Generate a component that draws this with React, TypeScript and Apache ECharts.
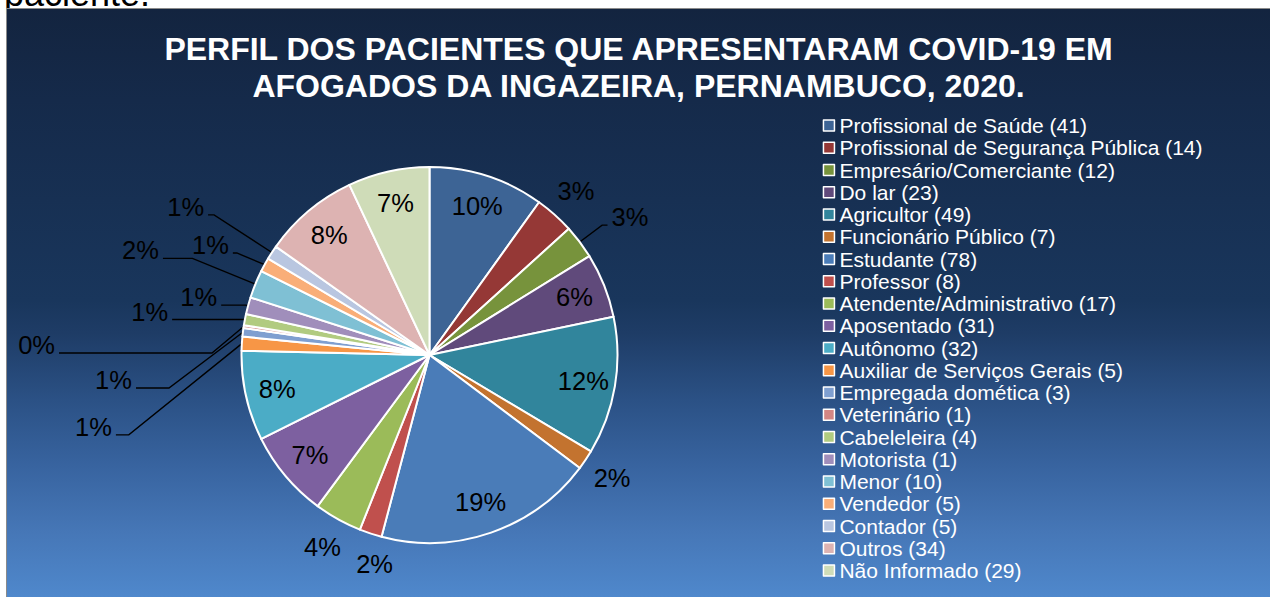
import { useEffect, useRef } from "react";
import * as echarts from "echarts";

const titleText =
  "PERFIL DOS PACIENTES QUE APRESENTARAM COVID-19 EM\nAFOGADOS DA INGAZEIRA, PERNAMBUCO, 2020.";

const categories = [
  "Profissional de Saúde (41)",
  "Profissional de Segurança Pública (14)",
  "Empresário/Comerciante (12)",
  "Do lar (23)",
  "Agricultor (49)",
  "Funcionário Público (7)",
  "Estudante (78)",
  "Professor (8)",
  "Atendente/Administrativo (17)",
  "Aposentado (31)",
  "Autônomo (32)",
  "Auxiliar de Serviços Gerais (5)",
  "Empregada domética (3)",
  "Veterinário (1)",
  "Cabeleleira (4)",
  "Motorista (1)",
  "Menor (10)",
  "Vendedor (5)",
  "Contador (5)",
  "Outros (34)",
  "Não Informado (29)",
];

// slice sizes (Motorista slice is drawn larger than its legend count)
const values = [41, 14, 12, 23, 49, 7, 78, 8, 17, 31, 32, 5, 3, 1, 4, 6, 10, 5, 5, 34, 29];

const colors = [
  "#3D6495", "#953836", "#77933C", "#604A7B", "#31859C", "#C3732F",
  "#4A7CB8", "#C0504D", "#9BBB59", "#7D60A0", "#4BACC6", "#F79646",
  "#7F9FD0", "#D38684", "#B1CB80", "#A08EBB", "#7FC0D4", "#F9AE78",
  "#B9C6E0", "#DDB3B2", "#CFDCB8",
];

const INNER = [0, 3, 4, 6, 9, 10, 19, 20];
const OUTER_PLAIN = [1, 5, 7, 8];
// index -> [length, length2, label box height]
const LEADER: Record<number, [number, number, number]> = {
  2: [28, 5.4, 24],
  11: [127, 12.9, 57],
  12: [78, 33, 32.8],
  13: [33.5, 153, 33],
  14: [0, 75, 30],
  17: [24.5, 4, 24],
  18: [69, 6, 24],
};
// labels laid out in a separate pass (not pushed by the others)
const LEADER_SOLO: Record<number, [number, number, number]> = {
  15: [2, 25, 24],
  16: [68, 29.5, 24],
};
const LABEL_OFFSET: Record<number, [number, number]> = { 7: [14, 0] };

const FONT = "'Liberation Sans', Arial, sans-serif";

export default function App() {
  const ref = useRef<HTMLDivElement>(null);

  useEffect(() => {
    if (!ref.current) return;
    const chart = echarts.init(ref.current, undefined, { renderer: "svg" });
    const total = values.reduce((a, b) => a + b, 0);
    const pct = (p: any) => `${Math.round((p.value / total) * 100)}%`;
    const center = [422.5, 346];
    const labelStyle = {
      color: "#000",
      fontSize: 25.5,
      fontFamily: FONT,
      lineHeight: 24,
      formatter: pct,
      overflow: "none",
    };

    const leaderData = (map: Record<number, [number, number, number]>, colored: boolean) =>
      values.map((v, i) => {
        const lead = map[i];
        return {
          value: v,
          name: categories[i],
          itemStyle: colored ? { color: colors[i] } : undefined,
          label: lead
            ? { show: true, lineHeight: lead[2], offset: [0, -8] }
            : { show: false },
          labelLine: lead
            ? { show: true, length: lead[0], length2: lead[1] }
            : { show: false },
        };
      });
    const ringData = (set: number[]) =>
      values.map((v, i) => ({
        value: v,
        name: categories[i],
        label: LABEL_OFFSET[i]
          ? { show: set.includes(i), offset: LABEL_OFFSET[i] }
          : { show: set.includes(i) },
      }));

    const ghost = {
      type: "pie",
      center,
      startAngle: 90,
      silent: true,
      emphasis: { disabled: true },
      itemStyle: { color: "rgba(0,0,0,0)", borderWidth: 0 },
      labelLine: { show: false },
      label: { ...labelStyle, position: "inside" },
      tooltip: { show: false },
    };

    chart.setOption({
      animation: false,
      backgroundColor: new echarts.graphic.LinearGradient(0, 0, 0, 1, [
        { offset: 0, color: "#13243F" },
        { offset: 0.155, color: "#152A4A" },
        { offset: 0.495, color: "#19365C" },
        { offset: 0.551, color: "#1E3C66" },
        { offset: 0.665, color: "#2B5185" },
        { offset: 0.779, color: "#3864A0" },
        { offset: 0.891, color: "#4677B7" },
        { offset: 1, color: "#4F88CC" },
      ]),
      title: {
        text: titleText,
        left: "center",
        top: 16,
        textStyle: {
          color: "#fff",
          fontSize: 32,
          fontWeight: "bold",
          fontFamily: FONT,
          lineHeight: 37.4,
        },
      },
      legend: {
        data: categories,
        orient: "vertical",
        left: 815.7,
        top: 105.5,
        padding: 0,
        itemWidth: 11,
        itemHeight: 11,
        itemGap: 0.25,
        icon: "rect",
        selectedMode: false,
        itemStyle: { borderColor: "#fff", borderWidth: 1.5 },
        textStyle: { color: "#fff", fontSize: 21, fontFamily: FONT, lineHeight: 22 },
      },
      series: [
        {
          type: "pie",
          center,
          radius: 188,
          startAngle: 90,
          avoidLabelOverlap: true,
          itemStyle: { borderColor: "#fff", borderWidth: 2 },
          label: { ...labelStyle, position: "outside", distanceToLabelLine: 4 },
          labelLine: { lineStyle: { color: "#000", width: 1.4 } },
          emphasis: { disabled: true },
          data: leaderData(LEADER, true),
        },
        {
          type: "pie",
          center,
          radius: 188,
          startAngle: 90,
          silent: true,
          avoidLabelOverlap: true,
          itemStyle: { color: "rgba(0,0,0,0)", borderWidth: 0 },
          label: { ...labelStyle, position: "outside", distanceToLabelLine: 4 },
          labelLine: { lineStyle: { color: "#000", width: 1.4 } },
          emphasis: { disabled: true },
          tooltip: { show: false },
          data: leaderData(LEADER_SOLO, false),
        },
        { ...ghost, radius: [118, 188], data: ringData(INNER) },
        { ...ghost, radius: [200, 234], data: ringData(OUTER_PLAIN) },
      ],
    });
    return () => chart.dispose();
  }, []);

  return (
    <div
      style={{
        position: "fixed",
        left: 0,
        top: 0,
        width: 1270,
        height: 597,
        background: "#fff",
        overflow: "hidden",
      }}
    >
      <div
        style={{
          position: "absolute",
          left: 4,
          top: -24.5,
          fontFamily: FONT,
          fontSize: 36,
          lineHeight: "36px",
          color: "#000",
          whiteSpace: "nowrap",
        }}
      >
        paciente.
      </div>
      <div
        style={{
          position: "absolute",
          left: 6,
          top: 8,
          borderLeft: "1px solid #8a8a8a",
          borderTop: "1px solid #8a8a8a",
        }}
      >
        <div ref={ref} style={{ width: 1263, height: 588 }} />
      </div>
    </div>
  );
}
